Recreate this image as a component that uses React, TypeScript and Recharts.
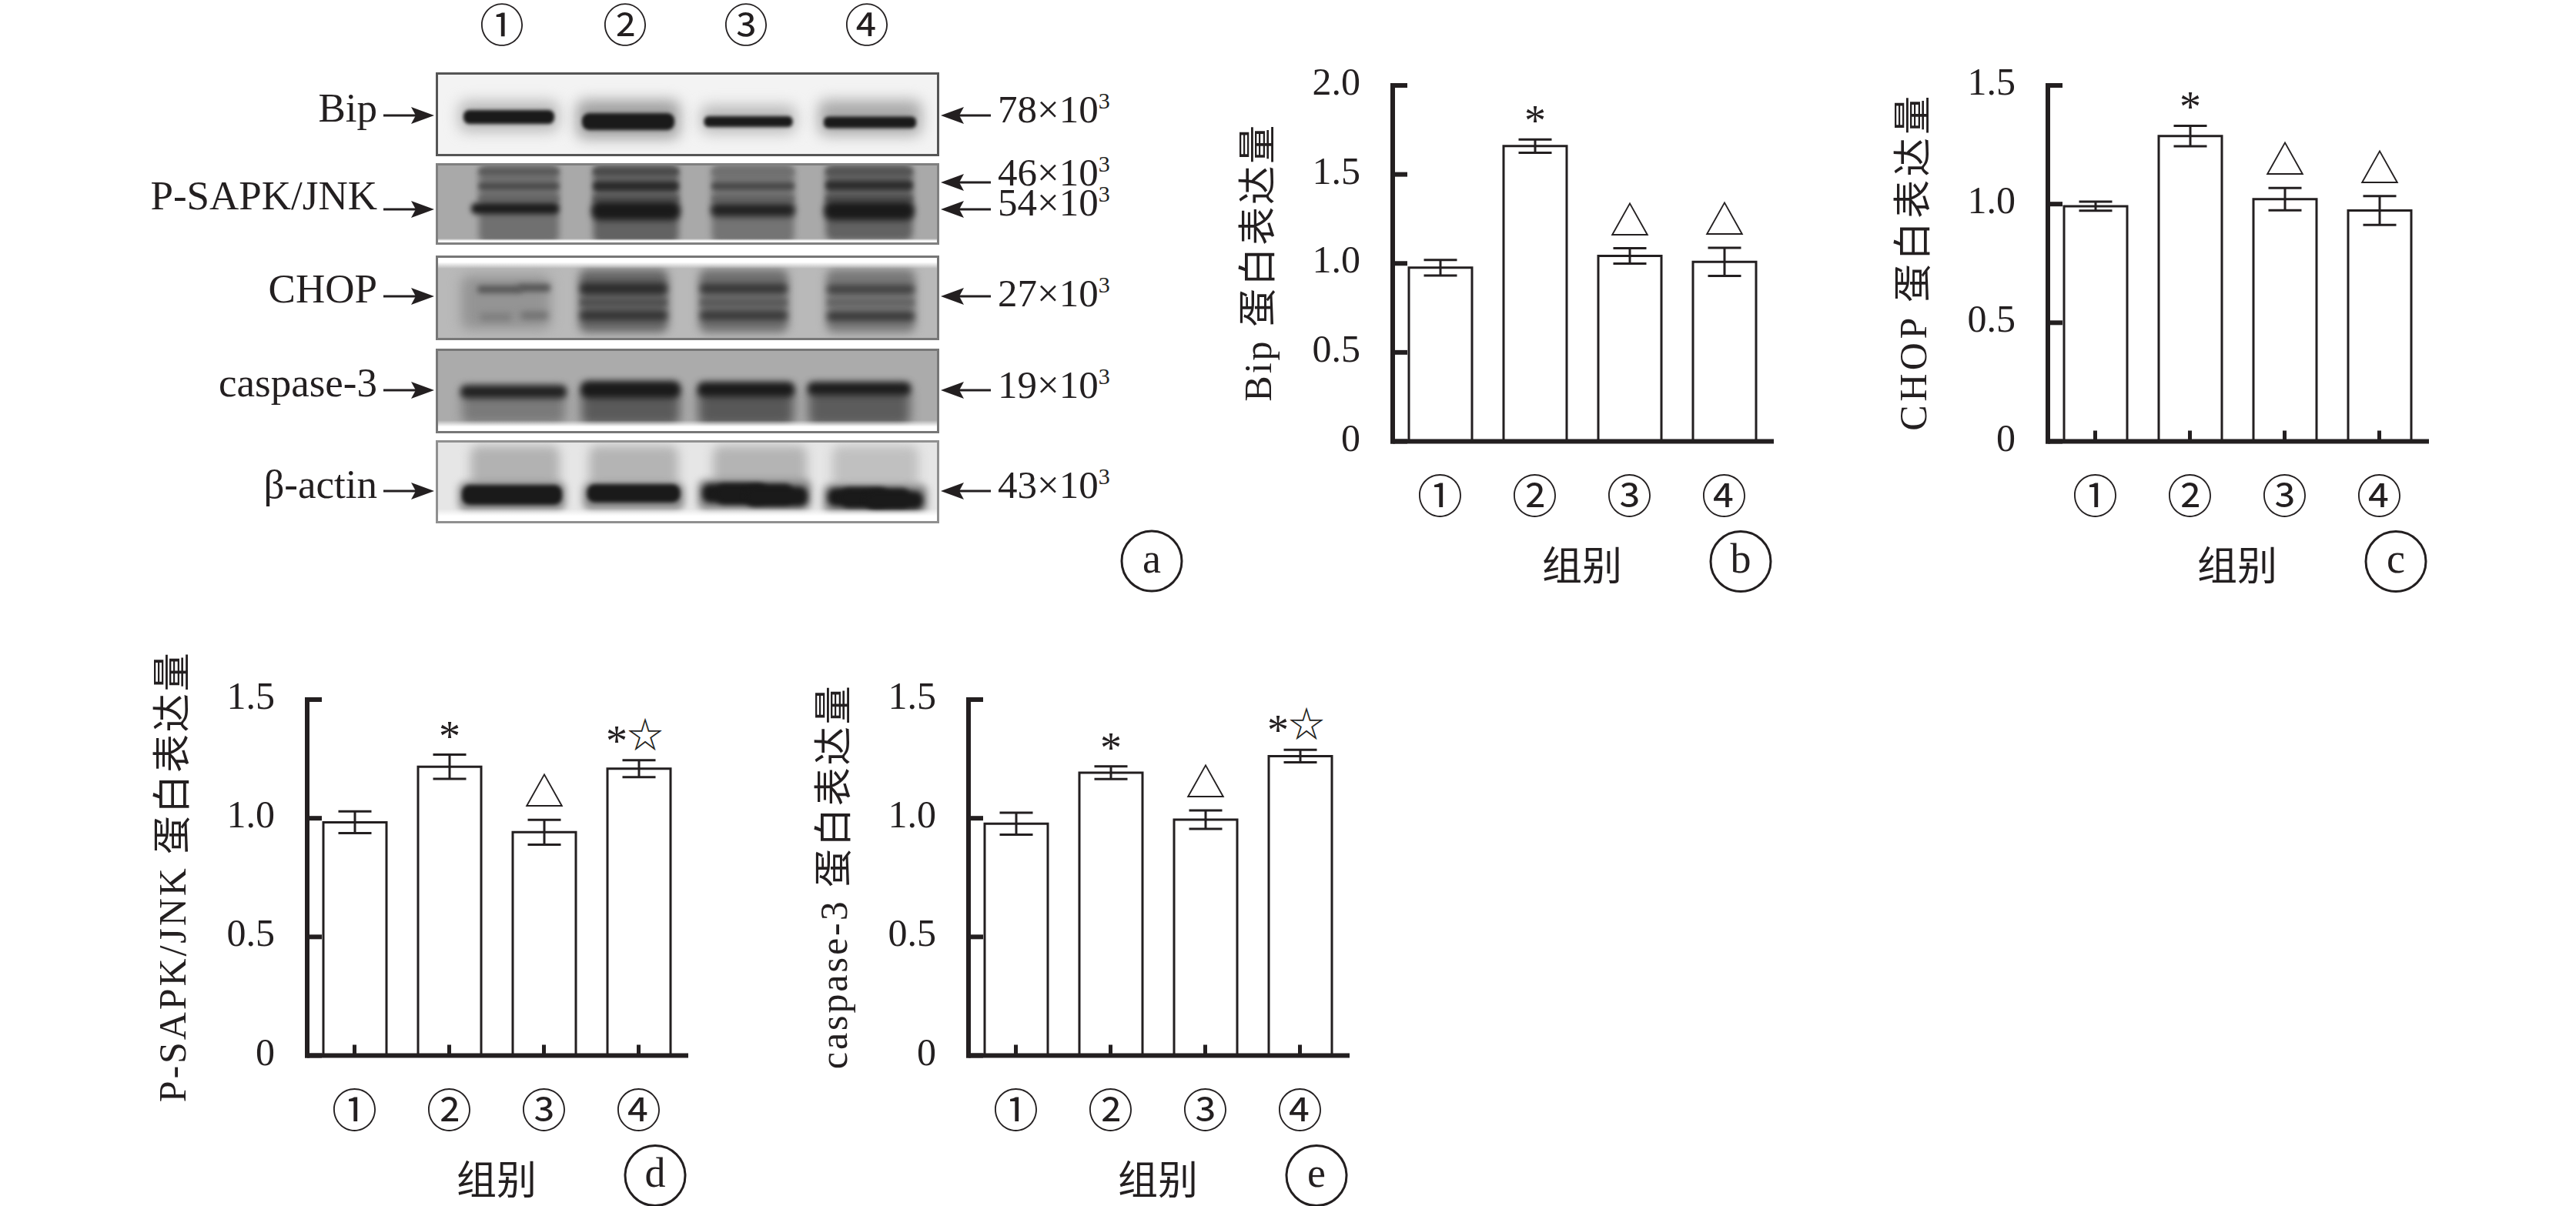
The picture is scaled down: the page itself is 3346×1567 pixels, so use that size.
import { Bar, BarChart, ErrorBar, LabelList, Scatter, ScatterChart, XAxis, YAxis } from "recharts"

const INK = "#231f20"
const SERIF = '"Liberation Serif","Noto Sans CJK SC",serif'
const CJK = '"Noto Sans CJK SC",sans-serif'

// group labels shared by all panels
const groups = ["①", "②", "③", "④"]

// b: Bip
const bipValues = [0.976, 1.659, 1.042, 1.009]
const bipErrors = [0.044, 0.037, 0.043, 0.079]
const bipMarks = ["", "*", "△", "△"]
const bipTicks = [0, 0.5, 1, 1.5, 2]

// c: CHOP
const chopValues = [0.991, 1.287, 1.021, 0.973]
const chopErrors = [0.019, 0.043, 0.047, 0.061]
const chopMarks = ["", "*", "△", "△"]

// d: P-SAPK/JNK
const jnkValues = [0.983, 1.217, 0.941, 1.209]
const jnkErrors = [0.046, 0.051, 0.052, 0.036]
const jnkMarks = ["", "*", "△", "*☆"]

// e: caspase-3
const caspValues = [0.977, 1.192, 0.994, 1.262]
const caspErrors = [0.046, 0.027, 0.039, 0.026]
const caspMarks = ["", "*", "△", "*☆"]

const shortTicks = [0, 0.5, 1, 1.5]

// western blot bands: [x, y, width, height, grey, blur] in the gel's own units
type Band = number[]
const bipBands: Band[] = [
  [92, 54, 130, 40, 185, 9], [247, 58, 134, 50, 160, 9], [403, 58, 124, 36, 185, 9], [561, 56, 134, 46, 170, 9],
  [92, 55, 118, 18, 26, 2], [247, 61, 120, 22, 26, 2], [403, 61, 115, 14, 26, 2], [561, 62, 120, 15, 26, 2],
]
const jnkBands: Band[] = [
  [105, 50, 104, 104, 112, 4], [257, 50, 111, 104, 98, 4], [409, 50, 107, 104, 116, 4], [560, 48, 113, 100, 98, 4],
  [105, 8, 104, 7, 85, 3], [257, 8, 111, 8, 70, 3], [409, 8, 107, 6, 110, 3], [560, 8, 113, 7, 80, 3],
  [105, 27, 104, 8, 72, 3], [257, 27, 111, 12, 42, 3], [409, 27, 107, 9, 70, 3], [560, 26, 113, 12, 45, 3],
  [105, 43, 104, 7, 100, 3], [257, 43, 111, 8, 85, 3], [409, 43, 107, 7, 98, 3], [560, 43, 113, 8, 80, 3],
  [100, 56, 114, 14, 28, 3.5], [257, 59, 115, 24, 26, 4.5], [409, 58, 109, 17, 34, 4], [560, 59, 117, 24, 26, 4.5],
]
const chopBands: Band[] = [
  [88, 58, 116, 70, 148, 8], [241, 56, 116, 82, 102, 6], [397, 56, 116, 82, 110, 6], [562, 56, 116, 82, 120, 6],
  [80, 41, 58, 10, 88, 3.5], [125, 39, 42, 10, 85, 3.5], [241, 40, 113, 15, 44, 4], [397, 40, 113, 12, 52, 4], [562, 41, 113, 11, 62, 4],
  [241, 58, 113, 9, 78, 3.5], [397, 58, 113, 9, 88, 3.5], [562, 58, 113, 9, 98, 3.5],
  [75, 77, 42, 10, 125, 4], [125, 75, 36, 10, 112, 4], [241, 75, 113, 12, 50, 4], [397, 75, 113, 12, 56, 4], [562, 76, 113, 12, 56, 4],
]
const caspBands: Band[] = [
  [98, 72, 134, 46, 122, 7], [250, 72, 128, 50, 90, 7], [400, 72, 124, 52, 88, 7], [547, 72, 132, 52, 92, 7],
  [98, 53, 138, 17, 34, 4.5], [250, 50, 130, 22, 26, 4.5], [400, 50, 126, 19, 26, 4.5], [547, 49, 134, 17, 28, 4.5],
]
const actinBands: Band[] = [
  [100, 32, 116, 56, 178, 7], [254, 32, 116, 56, 180, 7], [418, 32, 122, 56, 180, 7], [568, 32, 112, 56, 192, 7],
  [96, 70, 140, 38, 140, 5], [254, 70, 132, 36, 140, 5], [411, 68, 148, 40, 140, 5], [568, 73, 136, 38, 140, 5],
  [96, 68, 130, 26, 26, 2.5], [254, 66, 121, 24, 26, 2.5], [385, 66, 84, 25, 26, 3.5], [411, 67, 100, 26, 26, 3.5], [440, 70, 80, 26, 26, 3.5],
  [545, 71, 78, 24, 26, 3.5], [568, 72, 90, 25, 26, 3.5], [593, 75, 74, 24, 26, 3.5],
]

const gels = [
  { top: 94, height: 109, bg: "#f3f3f3", border: "#555555", head: 0, foot: 0, bands: bipBands },
  { top: 212, height: 106, bg: "#a9a9a9", border: "#808080", head: 0, foot: 5, bands: jnkBands },
  { top: 332, height: 110, bg: "#b9b9b9", border: "#777777", head: 14, foot: 0, bands: chopBands },
  { top: 453, height: 110, bg: "#ababab", border: "#777777", head: 0, foot: 14, bands: caspBands },
  { top: 572, height: 108, bg: "#e6e6e6", border: "#909090", head: 0, foot: 16, bands: actinBands },
]

const leftLabels = ["Bip", "P-SAPK/JNK", "CHOP", "caspase-3", "β-actin"]
const leftBase = [158, 272, 393, 515, 647]
const leftArrow = [150, 272, 385, 507, 638]
const sizeLabels = ["78", "46", "54", "27", "19", "43"]
const sizeBase = [159, 241, 280, 398, 517, 647]
const sizeArrow = [150, 237, 272, 385, 507, 638]
const laneX = [652, 812, 969, 1126]

function BandShape(props: any) {
  const [, , w, h, grey, blur] = props.payload.band
  return (
    <rect
      x={props.cx - w / 2}
      y={props.cy - h / 2}
      width={w}
      height={h}
      rx={Math.min(h / 2.4, 10)}
      fill={`rgb(${grey},${grey},${grey})`}
      style={{ filter: `blur(${blur}px)` }}
    />
  )
}

function Gel({ top, height, bg, border, head, foot, bands }: any) {
  const rows = bands.map((b: Band) => ({ x: b[0], y: b[1], band: b }))
  return (
    <div
      style={{
        position: "absolute",
        left: 566,
        top,
        width: 654,
        height,
        boxSizing: "border-box",
        border: `3px solid ${border}`,
        background: bg,
        overflow: "hidden",
      }}
    >
      <ScatterChart width={648} height={height - 6} margin={{ top: 0, right: 0, bottom: 0, left: 0 }}>
        <XAxis type="number" dataKey="x" domain={[0, 648]} allowDataOverflow hide />
        <YAxis type="number" dataKey="y" domain={[0, height - 6]} allowDataOverflow reversed hide />
        <Scatter data={rows} shape={BandShape} isAnimationActive={false} />
      </ScatterChart>
      {/* clear strips at the head and foot of the gel */}
      {head > 0 ? (
        <div style={{ position: "absolute", left: 0, right: 0, top: 0, height: head, background: "linear-gradient(#ffffff 40%,rgba(255,255,255,0))" }} />
      ) : null}
      {foot > 0 ? (
        <div style={{ position: "absolute", left: 0, right: 0, bottom: 0, height: foot, background: "linear-gradient(rgba(255,255,255,0),#ffffff 60%)" }} />
      ) : null}
    </div>
  )
}

function ArrowRight({ y }: { y: number }) {
  return (
    <g>
      <line x1={498} x2={548} y1={y} y2={y} stroke={INK} strokeWidth={3} />
      <polygon points={`564,${y} 534,${y - 11} 540,${y} 534,${y + 11}`} fill={INK} />
    </g>
  )
}

function ArrowLeft({ y }: { y: number }) {
  return (
    <g>
      <line x1={1238} x2={1287} y1={y} y2={y} stroke={INK} strokeWidth={3} />
      <polygon points={`1222,${y} 1252,${y - 11} 1246,${y} 1252,${y + 11}`} fill={INK} />
    </g>
  )
}

function PanelA() {
  return (
    <>
      {gels.map((g) => (
        <Gel key={g.top} {...g} />
      ))}
      <svg width={1600} height={800} style={{ position: "absolute", left: 0, top: 0 }}>
        {groups.map((g, i) => (
          <text key={g} x={laneX[i]} y={29} textAnchor="middle" dominantBaseline="central" fontFamily={CJK} fontSize={58} fill={INK}>
            {g}
          </text>
        ))}
        {leftLabels.map((l, i) => (
          <text key={l} x={490} y={leftBase[i]} textAnchor="end" fontFamily={SERIF} fontSize={53} fill={INK}>
            {l}
          </text>
        ))}
        {leftArrow.map((y) => (
          <ArrowRight key={y} y={y} />
        ))}
        {sizeLabels.map((l, i) => (
          <text key={l} x={1296} y={sizeBase[i]} fontFamily={SERIF} fontSize={51} fill={INK}>
            {l}×10
            <tspan dy={-18} fontSize={30}>3</tspan>
          </text>
        ))}
        {sizeArrow.map((y) => (
          <ArrowLeft key={y} y={y} />
        ))}
        <circle cx={1496} cy={729} r={39} fill="none" stroke={INK} strokeWidth={3} />
        <text x={1496} y={744} textAnchor="middle" fontFamily={SERIF} fontSize={54} fill={INK}>a</text>
      </svg>
    </>
  )
}

const PLOT_W = 492
const PLOT_H = 462.5
const M_LEFT = 220
const M_TOP = 60
const M_BOTTOM = 220

function YTick({ x, y, payload }: any) {
  return (
    <g>
      <line x1={x} x2={x + 19} y1={y} y2={y} stroke={INK} strokeWidth={6} />
      <text x={x - 42} y={y + 12} textAnchor="end" fontFamily={SERIF} fontSize={50} fill={INK}>
        {payload.value === 0 ? "0" : payload.value.toFixed(1)}
      </text>
    </g>
  )
}

function BarPanel({ left, top, max, ticks, title, titleLength, values, errors, marks, letter, xTicks = true }: any) {
  const rows = groups.map((g, i) => ({ group: g, value: values[i], err: errors[i], mark: marks[i] }))

  const XTick = ({ x, y, payload }: any) => (
    <g>
      {xTicks ? <line x1={x} x2={x} y1={y} y2={y - 14} stroke={INK} strokeWidth={5} /> : null}
      <text x={x} y={y + 67} textAnchor="middle" dominantBaseline="central" fontFamily={CJK} fontSize={59} fill={INK}>
        {payload.value}
      </text>
    </g>
  )

  const Mark = (props: any) => {
    const { index, value } = props
    if (!value) return null
    const box = props.viewBox ?? props
    const perUnit = box.height / values[index]
    const errTop = box.y - errors[index] * perUnit
    const cx = box.x + box.width / 2
    if (value === "△") {
      return (
        <text x={cx} y={errTop - 17} textAnchor="middle" fontFamily={CJK} fontSize={52} fill={INK}>
          △
        </text>
      )
    }
    if (value === "*") {
      return (
        <text x={cx} y={errTop - 5} textAnchor="middle" fontFamily={SERIF} fontSize={56} fill={INK}>
          *
        </text>
      )
    }
    return (
      <text x={cx - 6} y={errTop - 17} textAnchor="middle" fontFamily={SERIF} fontSize={56} fill={INK}>
        <tspan dy={11}>*</tspan>
        <tspan dy={-11} fontFamily={CJK} fontSize={46}>☆</tspan>
      </text>
    )
  }

  const midX = M_LEFT + PLOT_W / 2
  const midY = M_TOP + PLOT_H / 2
  const axisY = M_TOP + PLOT_H

  return (
    <div style={{ position: "absolute", left: left - M_LEFT, top: top - M_TOP }}>
      <BarChart
        width={M_LEFT + PLOT_W + 60}
        height={M_TOP + PLOT_H + M_BOTTOM}
        data={rows}
        margin={{ top: M_TOP, right: 60, bottom: 0, left: 0 }}
      >
        <Bar dataKey="value" barSize={82} fill="#ffffff" stroke={INK} strokeWidth={3} isAnimationActive={false}>
          <ErrorBar dataKey="err" direction="y" width={21.5} stroke={INK} strokeWidth={3} isAnimationActive={false} />
          <LabelList dataKey="mark" content={Mark} />
        </Bar>
        <XAxis
          dataKey="group"
          height={M_BOTTOM}
          interval={0}
          tickSize={0}
          tickMargin={0}
          tickLine={false}
          tick={XTick}
          axisLine={{ stroke: INK, strokeWidth: 6, strokeLinecap: "square" }}
        />
        <YAxis
          width={M_LEFT}
          domain={[0, max]}
          ticks={ticks}
          interval={0}
          tickSize={0}
          tickMargin={0}
          tickLine={false}
          tick={YTick}
          axisLine={{ stroke: INK, strokeWidth: 6, strokeLinecap: "square" }}
        />
        <text
          x={M_LEFT - 175}
          y={midY}
          transform={`rotate(-90 ${M_LEFT - 175} ${midY})`}
          textAnchor="middle"
          dominantBaseline="central"
          fontFamily={SERIF}
          fontSize={50}
          textLength={titleLength}
          fill={INK}
        >
          {title}
        </text>
        <text x={midX} y={axisY + 158} textAnchor="middle" dominantBaseline="central" fontFamily={CJK} fontSize={52} fill={INK}>
          组别
        </text>
        <circle cx={M_LEFT + 452} cy={axisY + 156} r={39} fill="none" stroke={INK} strokeWidth={3} />
        <text x={M_LEFT + 452} y={axisY + 170} textAnchor="middle" fontFamily={SERIF} fontSize={54} fill={INK}>
          {letter}
        </text>
      </BarChart>
    </div>
  )
}

export default function App() {
  return (
    <div style={{ position: "relative", width: 3346, height: 1567, background: "#ffffff", overflow: "hidden" }}>
      <style>{"body{margin:0}"}</style>
      <PanelA />
      <BarPanel
        left={1808.5}
        top={110.7}
        max={2}
        ticks={bipTicks}
        title="Bip 蛋白表达量"
        titleLength={359}
        values={bipValues}
        errors={bipErrors}
        marks={bipMarks}
        letter="b"
        xTicks={false}
      />
      <BarPanel
        left={2659.5}
        top={110.7}
        max={1.5}
        ticks={shortTicks}
        title="CHOP 蛋白表达量"
        titleLength={435}
        values={chopValues}
        errors={chopErrors}
        marks={chopMarks}
        letter="c"
      />
      <BarPanel
        left={398.5}
        top={909}
        max={1.5}
        ticks={shortTicks}
        title="P-SAPK/JNK 蛋白表达量"
        titleLength={584}
        values={jnkValues}
        errors={jnkErrors}
        marks={jnkMarks}
        letter="d"
      />
      <BarPanel
        left={1257.5}
        top={909}
        max={1.5}
        ticks={shortTicks}
        title="caspase-3 蛋白表达量"
        titleLength={498}
        values={caspValues}
        errors={caspErrors}
        marks={caspMarks}
        letter="e"
      />
    </div>
  )
}
